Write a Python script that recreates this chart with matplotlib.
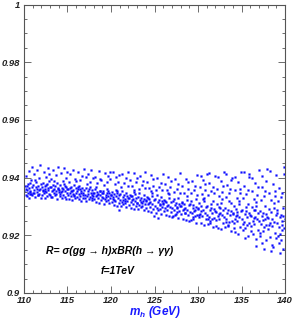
import matplotlib
matplotlib.use("Agg")
import matplotlib.pyplot as plt
from matplotlib.ticker import MultipleLocator

plt.rcParams['font.family'] = ['Liberation Sans', 'DejaVu Sans']
plt.rcParams['mathtext.fontset'] = 'custom'
plt.rcParams['mathtext.it'] = 'Liberation Sans:italic:bold'
plt.rcParams['mathtext.rm'] = 'Liberation Sans:bold'

# scan points (m_h [GeV], R), grouped by mass range
pts_110_115 = [
    (110.05,.9352),(110.12,.9371),(110.18,.9341),(110.24,.9405),(110.31,.9358),(110.37,.9336),(110.42,.9379),(110.48,.9347),(110.53,.9422),(110.58,.9364),
    (110.63,.9329),(110.69,.9383),(110.74,.9355),(110.79,.9391),(110.84,.9343),(110.88,.9437),(110.92,.9368),(110.96,.9338),(110.22,.9361),(110.66,.9349),
    (111.03,.9345),(111.09,.9374),(111.14,.9357),(111.2,.9412),(111.26,.9333),(111.33,.9366),(111.39,.9386),(111.45,.9351),(111.5,.9428),(111.56,.9339),
    (111.61,.9372),(111.67,.9356),(111.72,.9398),(111.78,.9342),(111.83,.9362),(111.89,.9442),(111.94,.9377),(111.98,.9331),(111.47,.9359),(111.11,.9348),
    (112.02,.9367),(112.08,.9338),(112.13,.9381),(112.19,.9354),(112.25,.9419),(112.3,.9345),(112.36,.9372),(112.41,.9329),(112.47,.9361),(112.53,.9403),
    (112.58,.9349),(112.64,.9377),(112.7,.9336),(112.75,.9434),(112.81,.9358),(112.86,.9389),(112.91,.9343),(112.96,.9369),(112.44,.9352),(112.77,.9363),
    (113.04,.9341),(113.1,.9368),(113.16,.9395),(113.21,.9352),(113.27,.9334),(113.33,.9376),(113.38,.9425),(113.44,.9359),(113.49,.9346),(113.55,.9372),
    (113.61,.9338),(113.66,.9408),(113.72,.9355),(113.78,.9381),(113.83,.9327),(113.88,.9364),(113.93,.9436),(113.98,.9349),(113.3,.9357),(113.7,.9343),
    (114.03,.9358),(114.09,.9336),(114.15,.9373),(114.2,.9417),(114.26,.9349),(114.32,.9328),(114.37,.9365),(114.43,.9388),(114.49,.9341),(114.54,.9359),
    (114.6,.9432),(114.66,.9334),(114.71,.9371),(114.77,.9352),(114.82,.9399),(114.87,.9325),(114.92,.9362),(114.97,.9345),(114.4,.9353),(114.8,.9366),
]
pts_115_120 = [
    (115.02,.9339),(115.08,.9362),(115.14,.9327),(115.19,.9384),(115.25,.9348),(115.31,.9411),(115.36,.9335),(115.42,.9369),(115.48,.9352),(115.53,.9322),
    (115.59,.9428),(115.65,.9357),(115.7,.9341),(115.76,.9374),(115.81,.9396),(115.87,.9331),(115.92,.9363),(115.97,.9346),(115.35,.9354),(115.72,.9337),
    (116.04,.9355),(116.1,.9333),(116.15,.9368),(116.21,.9421),(116.27,.9343),(116.32,.9325),(116.38,.9361),(116.44,.9392),(116.49,.9337),(116.55,.9352),
    (116.6,.9319),(116.66,.9405),(116.72,.9364),(116.77,.9339),(116.83,.9348),(116.88,.9431),(116.93,.9358),(116.98,.9329),(116.5,.9346),(116.2,.9359),
    (117.03,.9341),(117.09,.9363),(117.14,.9318),(117.2,.9378),(117.26,.9336),(117.31,.9414),(117.37,.9352),(117.43,.9327),(117.48,.9359),(117.54,.9386),
    (117.6,.9333),(117.65,.9345),(117.71,.9427),(117.76,.9321),(117.82,.9356),(117.87,.9339),(117.92,.9398),(117.97,.9348),(117.4,.9342),(117.8,.9331),
    (118.02,.9347),(118.08,.9326),(118.13,.9359),(118.19,.9402),(118.25,.9335),(118.3,.9315),(118.36,.9351),(118.42,.9381),(118.47,.9329),(118.53,.9343),
    (118.59,.9423),(118.64,.9312),(118.7,.9355),(118.75,.9338),(118.81,.9391),(118.86,.9321),(118.91,.9348),(118.96,.9333),(118.4,.9341),(118.78,.9352),
    (119.04,.9331),(119.1,.9352),(119.15,.9309),(119.21,.9373),(119.27,.9325),(119.32,.9416),(119.38,.9341),(119.43,.9318),(119.49,.9348),(119.55,.9384),
    (119.6,.9322),(119.66,.9336),(119.71,.9407),(119.77,.9313),(119.82,.9345),(119.88,.9328),(119.93,.9396),(119.98,.9339),(119.4,.9333),(119.7,.9354),
]
pts_120_125 = [
    (120.03,.9338),(120.09,.9316),(120.14,.9349),(120.2,.9419),(120.26,.9327),(120.31,.9305),(120.37,.9344),(120.43,.9378),(120.48,.9319),(120.54,.9336),
    (120.6,.9401),(120.65,.9302),(120.71,.9352),(120.76,.9329),(120.82,.9386),(120.87,.9311),(120.92,.9341),(120.97,.9288),(120.4,.9323),(120.7,.9346),
    (121.02,.9321),(121.08,.9343),(121.13,.9301),(121.19,.9369),(121.25,.9315),(121.3,.9412),(121.36,.9333),(121.42,.9307),(121.47,.9339),(121.53,.9381),
    (121.59,.9312),(121.64,.9327),(121.7,.9398),(121.75,.9298),(121.81,.9336),(121.86,.9318),(121.91,.9421),(121.96,.9329),(121.4,.9324),(121.72,.9347),
    (122.04,.9328),(122.1,.9305),(122.15,.9341),(122.21,.9392),(122.27,.9317),(122.32,.9295),(122.38,.9336),(122.44,.9371),(122.49,.9309),(122.55,.9325),
    (122.6,.9415),(122.66,.9292),(122.72,.9344),(122.77,.9319),(122.83,.9384),(122.88,.9302),(122.93,.9331),(122.98,.9313),(122.4,.9322),(122.7,.9351),
    (123.03,.9311),(123.09,.9334),(123.14,.9291),(123.2,.9362),(123.26,.9306),(123.31,.9405),(123.37,.9323),(123.43,.9297),(123.48,.9329),(123.54,.9376),
    (123.6,.9302),(123.65,.9318),(123.71,.9389),(123.76,.9286),(123.82,.9327),(123.87,.9308),(123.92,.9418),(123.97,.9321),(123.4,.9314),(123.75,.9341),
    (124.02,.9318),(124.08,.9296),(124.13,.9332),(124.19,.9385),(124.25,.9307),(124.3,.9283),(124.36,.9326),(124.42,.9364),(124.47,.9299),(124.53,.9315),
    (124.59,.9408),(124.64,.9281),(124.7,.9337),(124.75,.9309),(124.81,.9372),(124.86,.9292),(124.91,.9323),(124.96,.9268),(124.4,.9312),(124.72,.9345),
]
pts_125_130 = [
    (125.04,.9302),(125.1,.9325),(125.15,.9279),(125.21,.9356),(125.27,.9296),(125.32,.9398),(125.38,.9314),(125.43,.9287),(125.49,.9321),(125.55,.9369),
    (125.6,.9291),(125.66,.9308),(125.71,.9382),(125.77,.9273),(125.82,.9318),(125.88,.9297),(125.93,.9411),(125.98,.9312),(125.4,.9259),(125.74,.9334),
    (126.03,.9309),(126.09,.9285),(126.14,.9324),(126.2,.9379),(126.26,.9296),(126.31,.9271),(126.37,.9317),(126.43,.9357),(126.48,.9288),(126.54,.9305),
    (126.6,.9402),(126.65,.9268),(126.71,.9329),(126.76,.9299),(126.82,.9366),(126.87,.9281),(126.92,.9314),(126.97,.9262),(126.4,.9301),(126.7,.9342),
    (127.02,.9293),(127.08,.9318),(127.13,.9266),(127.19,.9351),(127.25,.9287),(127.3,.9394),(127.36,.9304),(127.42,.9275),(127.47,.9312),(127.53,.9362),
    (127.59,.9281),(127.64,.9298),(127.7,.9377),(127.75,.9259),(127.81,.9309),(127.86,.9284),(127.91,.9415),(127.96,.9302),(127.4,.9269),(127.74,.9331),
    (128.04,.9301),(128.1,.9274),(128.15,.9316),(128.21,.9372),(128.27,.9286),(128.32,.9258),(128.38,.9309),(128.44,.9348),(128.49,.9277),(128.55,.9295),
    (128.6,.9396),(128.66,.9253),(128.72,.9322),(128.77,.9289),(128.83,.9359),(128.88,.9269),(128.93,.9305),(128.98,.9248),(128.4,.9291),(128.7,.9336),
    (129.03,.9282),(129.09,.9309),(129.14,.9252),(129.2,.9345),(129.26,.9276),(129.31,.9389),(129.37,.9296),(129.43,.9263),(129.48,.9304),(129.54,.9357),
    (129.6,.9268),(129.65,.9287),(129.71,.9371),(129.76,.9244),(129.82,.9299),(129.87,.9272),(129.92,.9408),(129.97,.9293),(129.4,.9258),(129.74,.9325),
]
pts_130_135 = [
    (130.04,.9291),(130.1,.9262),(130.15,.9312),(130.21,.9368),(130.27,.9275),(130.32,.9241),(130.38,.9303),(130.44,.9343),(130.49,.9268),(130.55,.9288),
    (130.6,.9392),(130.66,.9237),(130.72,.9318),(130.77,.9279),(130.83,.9356),(130.88,.9255),(130.93,.9298),(130.98,.9412),(130.4,.9283),(130.7,.9331),
    (131.03,.9272),(131.09,.9301),(131.14,.9238),(131.2,.9339),(131.26,.9264),(131.31,.9383),(131.37,.9287),(131.43,.9249),(131.48,.9296),(131.54,.9352),
    (131.6,.9255),(131.65,.9278),(131.71,.9367),(131.76,.9229),(131.82,.9291),(131.87,.9261),(131.92,.9405),(131.97,.9284),(131.4,.9243),(131.74,.9319),
    (132.02,.9281),(132.08,.9252),(132.13,.9307),(132.19,.9361),(132.25,.9266),(132.3,.9226),(132.36,.9298),(132.42,.9337),(132.47,.9258),(132.53,.9279),
    (132.59,.9388),(132.64,.9221),(132.7,.9313),(132.75,.9269),(132.81,.9349),(132.86,.9241),(132.91,.9289),(132.96,.9418),(132.4,.9273),(132.72,.9326),
    (133.04,.9263),(133.1,.9294),(133.15,.9228),(133.21,.9332),(133.27,.9255),(133.32,.9376),(133.38,.9279),(133.43,.9236),(133.49,.9288),(133.55,.9347),
    (133.6,.9246),(133.66,.9271),(133.71,.9361),(133.77,.9214),(133.82,.9284),(133.88,.9251),(133.93,.9399),(133.98,.9276),(133.4,.9232),(133.74,.9311),
    (134.03,.9274),(134.09,.9241),(134.14,.9302),(134.2,.9358),(134.26,.9257),(134.31,.9212),(134.37,.9291),(134.43,.9331),(134.48,.9248),(134.54,.9272),
    (134.6,.9385),(134.65,.9206),(134.71,.9308),(134.76,.9262),(134.82,.9345),(134.87,.9229),(134.92,.9284),(134.97,.9421),(134.4,.9266),(134.7,.9319),
]
pts_135_140 = [
    (135.02,.9256),(135.08,.9289),(135.13,.9218),(135.19,.9328),(135.25,.9247),(135.3,.9372),(135.36,.9273),(135.42,.9226),(135.47,.9283),(135.53,.9342),
    (135.59,.9237),(135.64,.9265),(135.7,.9356),(135.75,.9198),(135.81,.9279),(135.86,.9243),(135.91,.9403),(135.96,.9269),(135.4,.9191),(135.74,.9307),
    (136.04,.9268),(136.1,.9232),(136.15,.9297),(136.21,.9353),(136.27,.9249),(136.32,.9203),(136.38,.9286),(136.44,.9327),(136.49,.9239),(136.55,.9264),
    (136.6,.9381),(136.66,.9188),(136.72,.9302),(136.77,.9255),(136.83,.9341),(136.88,.9219),(136.93,.9278),(136.98,.9426),(136.4,.9259),(136.7,.9314),
    (137.03,.9249),(137.09,.9284),(137.14,.9208),(137.2,.9323),(137.26,.9238),(137.31,.9369),(137.37,.9267),(137.43,.9215),(137.48,.9277),(137.54,.9337),
    (137.6,.9228),(137.65,.9258),(137.71,.9352),(137.76,.9182),(137.82,.9273),(137.87,.9235),(137.92,.9431),(137.97,.9263),(137.4,.9172),(137.74,.9302),
    (138.02,.9261),(138.08,.9223),(138.13,.9292),(138.19,.9348),(138.25,.9241),(138.3,.9193),(138.36,.9281),(138.42,.9322),(138.47,.9231),(138.53,.9256),
    (138.59,.9378),(138.64,.9161),(138.7,.9296),(138.75,.9247),(138.81,.9337),(138.86,.9208),(138.91,.9272),(138.96,.9409),(138.4,.9144),(138.72,.9311),
    (139.04,.9243),(139.1,.9279),(139.15,.9198),(139.21,.9318),(139.27,.9229),(139.32,.9365),(139.38,.9262),(139.43,.9205),(139.49,.9272),(139.55,.9333),
    (139.6,.9219),(139.66,.9251),(139.71,.9348),(139.77,.9152),(139.82,.9268),(139.88,.9226),(139.93,.9438),(139.98,.9257),(139.4,.9138),(139.74,.9296),
]
pts_scattered = [
    (110.35,.9372),(110.71,.9344),(111.28,.9391),(111.64,.9338),(112.17,.9357),(112.52,.9376),(112.88,.9412),(113.13,.9333),(113.47,.9387),(113.91,.9361),
    (114.18,.9342),(114.56,.9377),(114.94,.9421),(115.23,.9365),(115.61,.9343),(115.95,.9388),(116.36,.9372),(116.74,.9328),(117.12,.9401),(117.57,.9366),
    (117.94,.9337),(118.33,.9368),(118.68,.9396),(119.07,.9346),(119.52,.9361),(119.85,.9418),(120.18,.9333),(120.57,.9357),(120.94,.9409),(121.21,.9352),
    (121.62,.9318),(121.99,.9372),(122.29,.9337),(122.63,.9358),(122.95,.9398),(123.23,.9347),(123.57,.9311),(123.89,.9365),(124.21,.9329),(124.55,.9352),
    (124.88,.9395),(125.24,.9338),(125.58,.9305),(125.91,.9356),(126.23,.9319),(126.57,.9347),(126.89,.9389),(127.22,.9325),(127.56,.9294),(127.89,.9348),
    (128.19,.9312),(128.52,.9279),(128.86,.9384),(129.17,.9319),(129.51,.9284),(129.84,.9341),(130.13,.9271),(130.52,.9325),(130.86,.9379),(131.17,.9256),
    (131.52,.9309),(131.84,.9345),(132.11,.9232),(132.49,.9294),(132.84,.9371),(133.19,.9247),(133.53,.9318),(133.85,.9392),(134.12,.9226),(134.51,.9282),
    (134.84,.9361),(135.16,.9238),(135.5,.9297),(135.84,.9412),(136.13,.9214),(136.52,.9286),(136.86,.9368),(137.16,.9196),(137.5,.9254),(137.85,.9389),
    (138.16,.9237),(138.5,.9168),(138.84,.9355),(139.13,.9286),(139.51,.9184),(139.85,.9412),(139.62,.9236),(138.27,.9423),(137.33,.9407),(136.24,.9397),
    (135.28,.9419),(134.29,.9403),(133.26,.9414),(132.28,.9402),(131.29,.9416),(130.3,.9407),(136.63,.9163),(137.58,.9152),(138.94,.9191),(139.29,.9175),
]

x_ticks = [110, 115, 120, 125, 130, 135, 140]
x_tick_labels = ["110", "115", "120", "125", "130", "135", "140"]
y_ticks = [0.90, 0.92, 0.94, 0.96, 0.98, 1.00]
y_tick_labels = ["0.9", "0.92", "0.94", "0.96", "0.98", "1"]

all_pts = (pts_110_115 + pts_115_120 + pts_120_125 + pts_125_130
           + pts_130_135 + pts_135_140 + pts_scattered)
mh = [p[0] for p in all_pts]
R = [p[1] for p in all_pts]

fig = plt.figure(figsize=(2.94, 3.22), dpi=100)
ax = fig.add_axes([24/294, 1-293/322, 261/294, 288.5/322])

ax.plot(mh, R, linestyle='none', marker='s', markersize=1.3,
        markerfacecolor='#0a0aff', markeredgecolor='#0a0aff', markeredgewidth=0.2)

ax.set_xlim(110, 140)
ax.set_ylim(0.9, 1.0)
ax.set_xticks(x_ticks)
ax.set_xticklabels(x_tick_labels)
ax.set_yticks(y_ticks)
ax.set_yticklabels(y_tick_labels)
ax.xaxis.set_minor_locator(MultipleLocator(1))
ax.yaxis.set_minor_locator(MultipleLocator(0.005))
ax.tick_params(which='both', direction='in', top=True, right=True, color='#555555', width=0.6)
ax.tick_params(which='major', length=5)
ax.tick_params(which='minor', length=2.5)
ax.tick_params(axis='x', pad=2.5)
ax.tick_params(axis='y', pad=3)
for lab in ax.get_xticklabels() + ax.get_yticklabels():
    lab.set_fontsize(6.8)
    lab.set_fontstyle('italic')
    lab.set_fontweight('bold')
    lab.set_color('#222222')
for s in ax.spines.values():
    s.set_color('#555555')
    s.set_linewidth(0.8)

ax.text(119.8, 0.9147, "R= σ(gg → h)xBR(h → γγ)",
        ha='center', va='center', fontsize=7.5, fontstyle='italic', fontweight='bold', color='black')
ax.text(120.8, 0.9077, "f=1TeV", ha='center', va='center', fontsize=7.5,
        fontstyle='italic', fontweight='bold', color='black')

fig.text(155/294, 1-312.5/322, r"$m_h$ (GeV)", ha='center', va='center', fontsize=8.5,
         fontstyle='italic', fontweight='bold', color='#1a1aff')

fig.savefig("out.png", dpi=100)
